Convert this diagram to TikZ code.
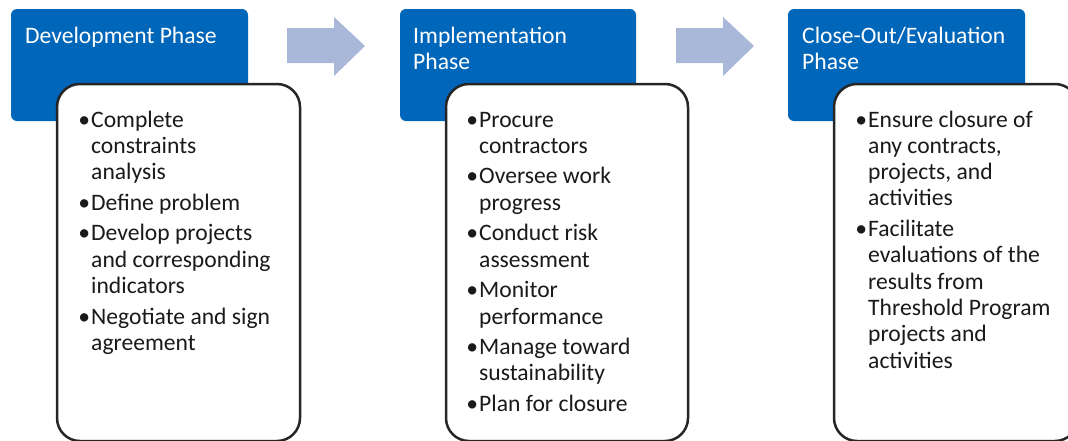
\documentclass[tikz,border=0pt]{standalone}
\usepackage{fontspec}
\setmainfont{Carlito}
\definecolor{phaseblue}{RGB}{0,102,185}
\definecolor{arrowblue}{RGB}{169,183,217}
\definecolor{boxline}{RGB}{38,38,38}
\definecolor{bodytext}{RGB}{26,26,26}
\newcommand\itm[1]{\leavevmode\llap{•\hspace{1pt}}#1}
\tikzset{
  phasebox/.style={fill=phaseblue, draw=none, rounded corners=6pt},
  listbox/.style={fill=white, draw=boxline, line width=2.5pt, rounded corners=23pt},
  phasetitle/.style={anchor=base west, inner sep=0pt, text=white, font=\fontsize{23.6}{26.3}\selectfont},
  listtext/.style={anchor=base west, inner sep=0pt, text=bodytext, font=\fontsize{23.6}{26.3}\selectfont},
  phasearrow/.style={fill=arrowblue, draw=none}
}
\newcommand\gap{\\[4.3pt]}
\begin{document}
\begin{tikzpicture}[x=1pt,y=-1pt]
\useasboundingbox (0,0) rectangle (1068,440);
\clip (0,0) rectangle (1068,440);
% arrows
\fill[phasearrow] (287,28) -- (334,28) -- (334,17) -- (365,46) -- (334,76) -- (334,63) -- (287,63) -- cycle;
\fill[phasearrow] (676,28) -- (723,28) -- (723,17) -- (754,46) -- (723,76) -- (723,63) -- (676,63) -- cycle;
% phase 1
\draw[phasebox] (11,9) rectangle (248,121);
\node[phasetitle] (t1) at (25,43) {Development Phase};
\draw[listbox] (57,84) rectangle (300,441);
\node[listtext] (l1) at (91,127) {\begin{minipage}[t]{205pt}\raggedright
\itm{Complete}\\ constraints\\ analysis\gap
\itm{Define problem}\gap
\itm{Develop projects}\\ and corresponding\\ indicators\gap
\itm{Negotiate and sign}\\ agreement
\end{minipage}};
% phase 2
\draw[phasebox] (400,9) rectangle (636,121);
\node[phasetitle] (t2) at (413,43) {\begin{minipage}[t]{220pt}Implementation\\ Phase\end{minipage}};
\draw[listbox] (446,84) rectangle (688,441);
\node[listtext] (l2) at (479,127) {\begin{minipage}[t]{205pt}\raggedright
\itm{Procure}\\ contractors\gap
\itm{Oversee work}\\ progress\gap
\itm{Conduct risk}\\ assessment\gap
\itm{Monitor}\\ performance\gap
\itm{Manage toward}\\ sustainability\gap
\itm{Plan for closure}
\end{minipage}};
% phase 3
\draw[phasebox] (788,9) rectangle (1025,121);
\node[phasetitle] (t3) at (802,43) {\begin{minipage}[t]{230pt}Close-Out/Evaluation\\ Phase\end{minipage}};
\draw[listbox] (834,84) rectangle (1078,441);
\node[listtext] (l3) at (868,127) {\begin{minipage}[t]{205pt}\raggedright
\itm{Ensure closure of}\\ any contracts,\\ projects, and\\ activities\gap
\itm{Facilitate}\\ evaluations of the\\ results from\\ Threshold Program\\ projects and\\ activities
\end{minipage}};
\end{tikzpicture}
\end{document}
